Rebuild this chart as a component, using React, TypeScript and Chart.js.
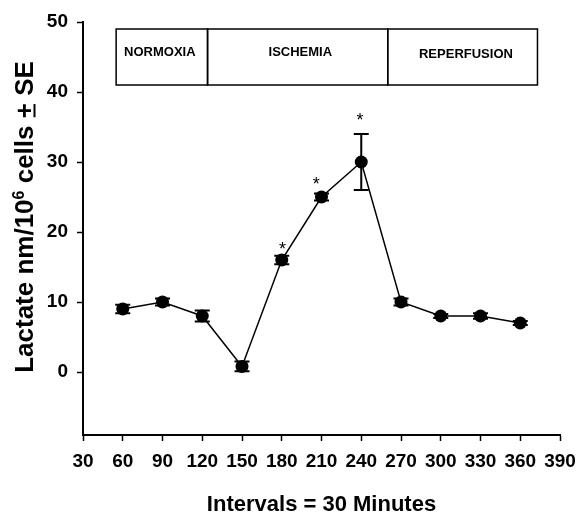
import React, { useEffect, useRef } from "react";
import { Chart, registerables } from "chart.js";

Chart.register(...registerables);

// ---- data ----
const intervals = [60, 90, 120, 150, 180, 210, 240, 270, 300, 330, 360];
const lactate = [9, 10, 8, 0.8, 16, 25, 30, 10, 8, 8, 7];
const stdErr = [0.6, 0.5, 0.8, 0.7, 0.6, 0.5, 4, 0.5, 0.3, 0.4, 0.3];

const xTicks = [30, 60, 90, 120, 150, 180, 210, 240, 270, 300, 330, 360, 390];
const yTicks = [0, 10, 20, 30, 40, 50];
const xMin = 30;
const xMax = 390;
const yMin = -9;
const yMax = 50;

const phaseNames = ["NORMOXIA", "ISCHEMIA", "REPERFUSION"];
const phaseStarts = [55, 124, 260];
const phaseEnds = [124, 260, 373];
const phaseLabelX = [88, 194, 319];
const phaseLabelY = [45.6, 45.6, 45.3];
const phaseBoxTop = 49;
const phaseBoxBottom = 41;

const starX = [180.5, 206, 239];
const starY = [18.2, 27.5, 36.6];

const xTitle = "Intervals = 30 Minutes";
const yTitleParts = ["Lactate nm/10", "6", " cells ", "+", " SE"];

const FONT = "'Liberation Sans', Arial, Helvetica, sans-serif";

const overlayPlugin = {
  id: "overlay",
  beforeDatasetsDraw(chart: any) {
    const { ctx } = chart;
    const xs = chart.scales.x;
    const ys = chart.scales.y;
    ctx.save();
    ctx.strokeStyle = "#000";
    ctx.lineWidth = 2;
    const capHalf = 7.5;
    intervals.forEach((xv, i) => {
      const px = xs.getPixelForValue(xv);
      const top = ys.getPixelForValue(lactate[i] + stdErr[i]);
      const bot = ys.getPixelForValue(lactate[i] - stdErr[i]);
      ctx.beginPath();
      ctx.moveTo(px, top);
      ctx.lineTo(px, bot);
      ctx.moveTo(px - capHalf, top);
      ctx.lineTo(px + capHalf, top);
      ctx.moveTo(px - capHalf, bot);
      ctx.lineTo(px + capHalf, bot);
      ctx.stroke();
    });
    ctx.restore();
  },
  afterDraw(chart: any) {
    const { ctx, chartArea } = chart;
    const xs = chart.scales.x;
    const ys = chart.scales.y;
    ctx.save();
    // phase boxes
    ctx.strokeStyle = "#000";
    ctx.lineWidth = 1.5;
    const yT = ys.getPixelForValue(phaseBoxTop);
    const yB = ys.getPixelForValue(phaseBoxBottom);
    phaseStarts.forEach((s, i) => {
      const x0 = xs.getPixelForValue(s);
      const x1 = xs.getPixelForValue(phaseEnds[i]);
      ctx.strokeRect(x0, yT, x1 - x0, yB - yT);
    });
    ctx.fillStyle = "#000";
    ctx.font = `bold 13px ${FONT}`;
    ctx.textAlign = "center";
    ctx.textBaseline = "middle";
    phaseNames.forEach((n, i) => {
      ctx.fillText(n, xs.getPixelForValue(phaseLabelX[i]), ys.getPixelForValue(phaseLabelY[i]));
    });
    // stars
    ctx.font = `18px ${FONT}`;
    ctx.textBaseline = "alphabetic";
    starX.forEach((sx, i) => {
      ctx.fillText("*", xs.getPixelForValue(sx), ys.getPixelForValue(starY[i]) + 10);
    });
    // x title
    ctx.font = `bold 22px ${FONT}`;
    ctx.textAlign = "center";
    ctx.textBaseline = "alphabetic";
    ctx.fillText(xTitle, (chartArea.left + chartArea.right) / 2, 511);
    // y title
    const big = `bold 26px ${FONT}`;
    const small = `bold 16px ${FONT}`;
    ctx.font = big;
    const w0 = ctx.measureText(yTitleParts[0]).width;
    const w2 = ctx.measureText(yTitleParts[2]).width;
    const w3 = ctx.measureText(yTitleParts[3]).width;
    const w4 = ctx.measureText(yTitleParts[4]).width;
    ctx.font = small;
    const w1 = ctx.measureText(yTitleParts[1]).width;
    const total = w0 + w1 + w2 + w3 + w4;
    ctx.translate(33, 217);
    ctx.rotate(-Math.PI / 2);
    ctx.textAlign = "left";
    let u = -total / 2;
    ctx.font = big;
    ctx.fillText(yTitleParts[0], u, 0);
    u += w0;
    ctx.font = small;
    ctx.fillText(yTitleParts[1], u, -9);
    u += w1;
    ctx.font = big;
    ctx.fillText(yTitleParts[2], u, 0);
    u += w2;
    ctx.fillText(yTitleParts[3], u, 0);
    ctx.lineWidth = 2;
    ctx.beginPath();
    ctx.moveTo(u + 1, 1.5);
    ctx.lineTo(u + w3 - 1, 1.5);
    ctx.stroke();
    u += w3;
    ctx.fillText(yTitleParts[4], u, 0);
    ctx.restore();
  },
};

export default function App() {
  const ref = useRef<HTMLCanvasElement | null>(null);
  useEffect(() => {
    if (!ref.current) return;
    const chart = new Chart(ref.current, {
      type: "line",
      data: {
        datasets: [
          {
            data: intervals.map((x, i) => ({ x, y: lactate[i] })),
            borderColor: "#000",
            borderWidth: 1.5,
            backgroundColor: "#000",
            pointBackgroundColor: "#000",
            pointBorderColor: "#000",
            pointRadius: 6.5,
            pointBorderWidth: 0,
            tension: 0,
            fill: false,
          },
        ],
      },
      options: {
        responsive: false,
        animation: false,
        events: [],
        layout: { padding: { top: 22, right: 17, left: 0, bottom: 0 } },
        plugins: { legend: { display: false }, tooltip: { enabled: false }, title: { display: false } },
        scales: {
          x: {
            type: "linear",
            min: xMin,
            max: xMax,
            afterBuildTicks: (s: any) => {
              s.ticks = xTicks.map((v) => ({ value: v }));
            },
            afterFit: (s: any) => {
              s.height = 77;
              s.paddingLeft = 0;
              s.paddingRight = 0;
            },
            grid: { drawOnChartArea: false, drawTicks: true, tickLength: 6, tickColor: "#000", tickWidth: 1.5 },
            border: { display: true, color: "#000", width: 2 },
            ticks: {
              color: "#000",
              padding: 9,
              maxRotation: 0,
              autoSkip: false,
              font: { family: FONT, size: 19, weight: "bold" },
            },
          },
          y: {
            type: "linear",
            min: yMin,
            max: yMax,
            afterBuildTicks: (s: any) => {
              s.ticks = yTicks.map((v) => ({ value: v }));
            },
            afterFit: (s: any) => {
              s.width = 83;
              s.paddingTop = 0;
              s.paddingBottom = 0;
            },
            grid: { drawOnChartArea: false, drawTicks: true, tickLength: 6, tickColor: "#000", tickWidth: 1.5 },
            border: { display: true, color: "#000", width: 2 },
            ticks: {
              color: "#000",
              padding: 9,
              font: { family: FONT, size: 19, weight: "bold" },
            },
          },
        },
      },
      plugins: [overlayPlugin],
    } as any);
    return () => chart.destroy();
  }, []);
  return (
    <div style={{ position: "absolute", left: 0, top: 0, width: 577, height: 512, background: "#fff" }}>
      <canvas ref={ref} width={577} height={512} style={{ display: "block", width: 577, height: 512 }} />
    </div>
  );
}
